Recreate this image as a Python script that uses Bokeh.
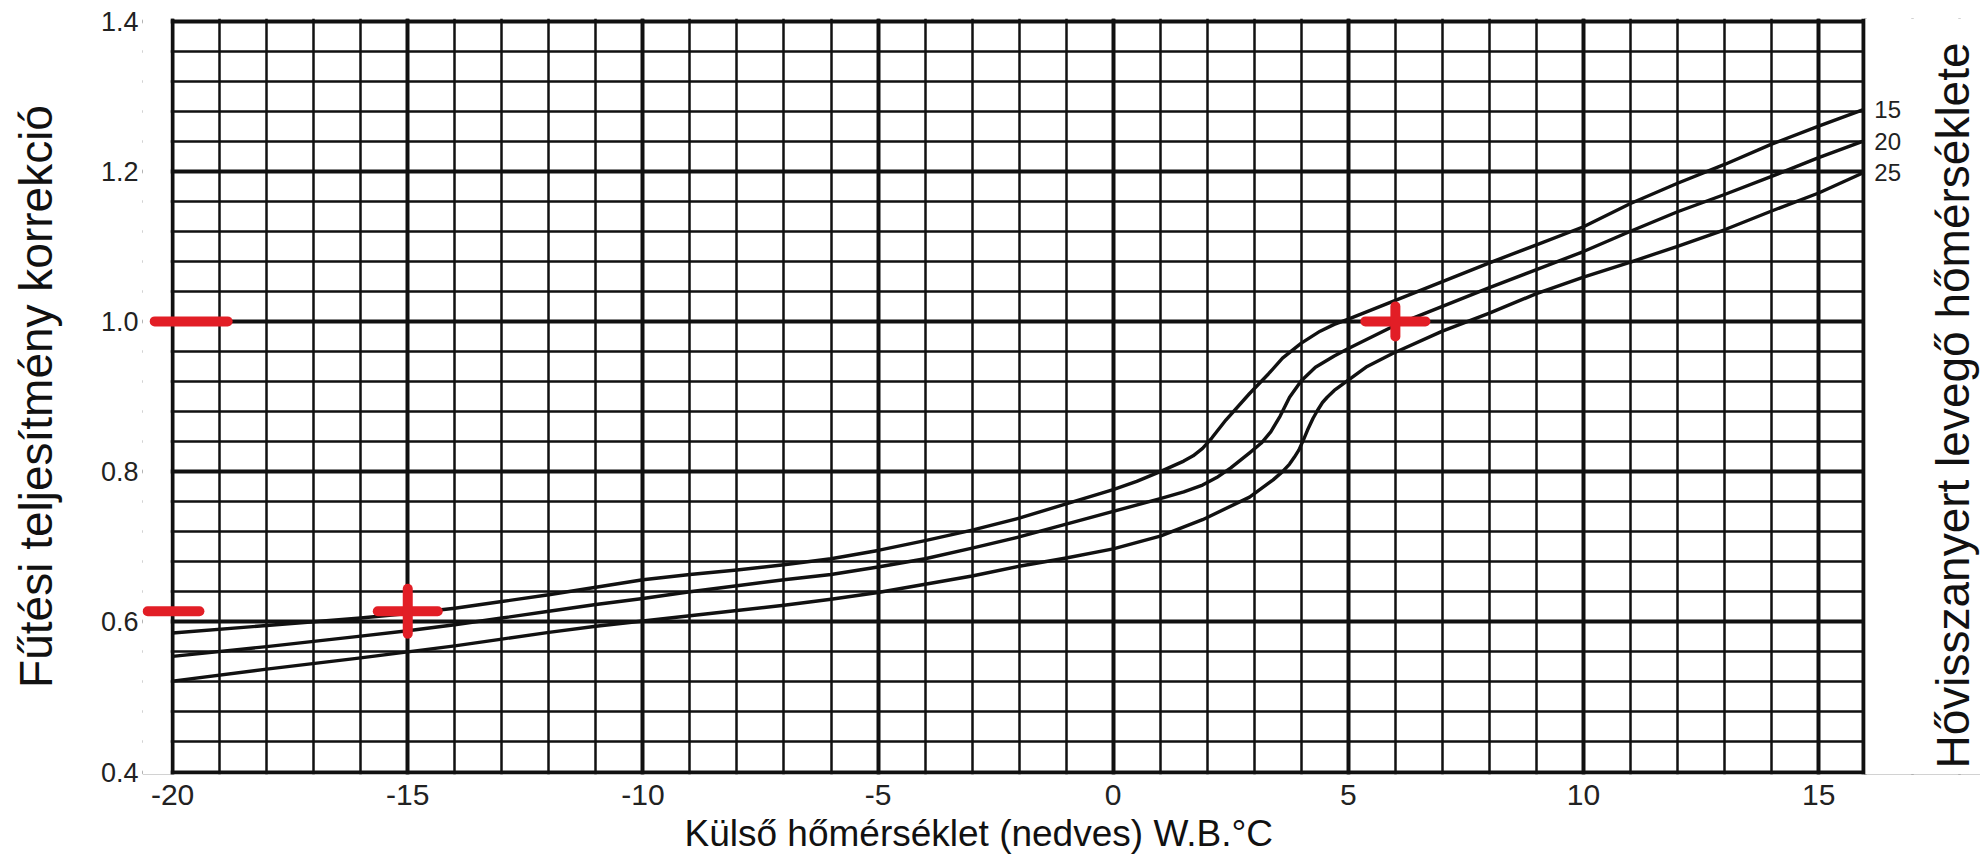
import numpy as np
from bokeh.plotting import figure
from bokeh.models import (Range1d, FixedTicker, SingleIntervalTicker, Grid,
                          PrintfTickFormatter, Title)
from bokeh.embed import file_html
from bokeh.resources import INLINE
from bokeh.core.properties import value

# ---------------- data ----------------
x_ticks = [-20, -15, -10, -5, 0, 5, 10, 15]
y_ticks = [0.4, 0.6, 0.8, 1.0, 1.2, 1.4]
x_min, x_max = -20, 15.95          # chart box
y_min, y_max = 0.4, 1.4

curve_names = ["15", "20", "25"]

x15 = [-20, -18, -16, -15, -14, -13, -12, -11, -10, -9, -8, -7, -6, -5, -4, -3, -2, -1,
       0, 0.5, 1, 1.5, 1.7, 1.9, 2.1, 2.4, 2.9, 3.3, 3.6, 4.0, 4.4, 4.7, 5, 6, 7, 8, 9, 10,
       11, 12, 13, 14, 15, 15.95]
y15 = [0.585, 0.595, 0.605, 0.611, 0.618, 0.627, 0.636, 0.646, 0.656, 0.663, 0.669, 0.676,
       0.684, 0.695, 0.708, 0.722, 0.738, 0.757, 0.776, 0.787, 0.800, 0.814, 0.821, 0.831,
       0.845, 0.869, 0.904, 0.930, 0.951, 0.971, 0.987, 0.996, 1.003, 1.028, 1.053, 1.078,
       1.102, 1.126, 1.157, 1.184, 1.209, 1.236, 1.260, 1.282]

x20 = [-20, -18, -16, -15, -14, -13, -12, -11, -10, -9, -8, -7, -6, -5, -4, -3, -2, -1,
       0, 1, 1.5, 1.9, 2.2, 2.5, 2.9, 3.15, 3.35, 3.55, 3.75, 4.0, 4.3, 4.7, 5, 6, 7, 8, 9,
       10, 11, 12, 13, 14, 15, 15.95]
y20 = [0.554, 0.567, 0.581, 0.588, 0.596, 0.605, 0.614, 0.623, 0.631, 0.640, 0.648, 0.656,
       0.663, 0.673, 0.684, 0.698, 0.713, 0.730, 0.747, 0.764, 0.773, 0.782, 0.792, 0.805,
       0.825, 0.838, 0.853, 0.874, 0.899, 0.921, 0.939, 0.954, 0.964, 0.995, 1.020, 1.045,
       1.069, 1.093, 1.120, 1.146, 1.169, 1.193, 1.218, 1.240]

x25 = [-20, -18, -16, -15, -14, -13, -12, -11, -10, -9, -8, -7, -6, -5, -4, -3, -2, -1,
       0, 1, 1.9, 2.9, 3.4, 3.6, 3.75, 3.85, 3.95, 4.05, 4.13, 4.25, 4.34, 4.45, 4.55, 4.7,
       4.94, 5.4, 5.93, 7, 8, 9, 10, 11, 12, 13, 14, 15, 15.95]
y25 = [0.521, 0.537, 0.552, 0.560, 0.568, 0.577, 0.586, 0.594, 0.601, 0.608, 0.615, 0.622,
       0.630, 0.639, 0.650, 0.661, 0.674, 0.685, 0.697, 0.714, 0.736, 0.766, 0.789, 0.800,
       0.810, 0.819, 0.829, 0.843, 0.855, 0.871, 0.881, 0.892, 0.899, 0.908, 0.919, 0.940,
       0.957, 0.987, 1.011, 1.037, 1.059, 1.079, 1.100, 1.122, 1.147, 1.171, 1.198]

# red reading marks
mark_cross_x = [-15, 6]
mark_cross_y = [0.614, 1.0]
mark_dash_y = [1.0, 0.614]
mark_dash_x0 = [-20.38, -20.53]
mark_dash_x1 = [-18.83, -19.43]

x_title = "Külső hőmérséklet (nedves) W.B.°C"
y_title = "Fűtési teljesítmény korrekció"
r_title = "Hővisszanyert levegő hőmérséklete"

# ---------------- styling / layout ----------------
INK = "#111111"
LABEL_INK = "#222222"
RED = "#e21e26"
FONT = "Liberation Sans"
PX_X = 47.03            # pixels per x unit
PX_Y = 751.0            # pixels per y unit
LEFT = 142              # canvas px of frame left
TOP = 18                # canvas px of frame top
FRAME_W, FRAME_H = 1838, 756
x_start = -20.64
x_end = x_start + FRAME_W / PX_X
pad_y = 2.5 / PX_Y
y_start, y_end = y_min - pad_y, y_max + pad_y


def px_to_x(px):
    return x_start + (px - LEFT) / PX_X


def px_to_y(py):
    return y_end - (py - TOP) / PX_Y


p = figure(x_range=Range1d(x_start, x_end), y_range=Range1d(y_start, y_end),
           frame_width=FRAME_W, frame_height=FRAME_H,
           min_border_left=LEFT, min_border_right=0, min_border_top=TOP,
           min_border_bottom=80, output_backend="svg", toolbar_location=None,
           background_fill_color="white", border_fill_color="white")
p.outline_line_color = None

# axes
p.xaxis.ticker = FixedTicker(ticks=x_ticks)
p.yaxis.ticker = FixedTicker(ticks=y_ticks)
p.xaxis.formatter = PrintfTickFormatter(format="%d")
p.yaxis.formatter = PrintfTickFormatter(format="%.1f")
for ax in (p.xaxis, p.yaxis):
    ax.axis_line_color = None
    ax.major_tick_line_color = None
    ax.minor_tick_line_color = None
    ax.major_tick_out = 0
    ax.major_tick_in = 0
    ax.major_label_text_font = FONT
    ax.major_label_text_color = LABEL_INK
p.xaxis.major_label_text_font_size = "30px"
p.yaxis.major_label_text_font_size = "27px"
p.xaxis.major_label_standoff = 10
p.yaxis.major_label_standoff = 4
p.yaxis.axis_label = y_title
p.yaxis.axis_label_text_font = FONT
p.yaxis.axis_label_text_font_size = "46px"
p.yaxis.axis_label_text_font_style = "normal"
p.yaxis.axis_label_text_color = INK
p.yaxis.axis_label_standoff = 36

# x title, placed below the axis
p.add_layout(Title(text=x_title, align="left", offset=542, standoff=8,
                   vertical_align="middle", text_font=FONT, text_font_size="37px",
                   text_font_style="normal", text_color=INK), "below")

# grids (box border = outer grid lines)
p.xgrid.ticker = FixedTicker(ticks=x_ticks + [x_max])
p.ygrid.ticker = FixedTicker(ticks=y_ticks)
for g in (p.xgrid, p.ygrid):
    g.grid_line_color = INK
    g.grid_line_width = 4
p.add_layout(Grid(dimension=0, ticker=SingleIntervalTicker(interval=1),
                  grid_line_color=INK, grid_line_width=2.5))
p.add_layout(Grid(dimension=1, ticker=SingleIntervalTicker(interval=0.04),
                  grid_line_color=INK, grid_line_width=2.5))

# blank margins left and right of the chart box
half_border = 2.0 / PX_X
p.quad(left=[x_start, x_max + half_border], right=[x_min - half_border, x_end],
       bottom=[y_start, y_start], top=[y_end, y_end],
       fill_color="white", line_color=None)

# curves
for xs, ys in ((x15, y15), (x20, y20), (x25, y25)):
    p.line(xs, ys, line_color=INK, line_width=3.4, line_join="round")

# curve names at the right ends
p.text(x=[x15[-1], x20[-1], x25[-1]], y=[y15[-1], y20[-1], y25[-1]], text=curve_names,
       x_offset=11, text_align="left", text_baseline="middle",
       text_font=value(FONT), text_font_size=value("24px"), text_color=LABEL_INK)

# right-hand title
p.text(x=[px_to_x(1952)], y=[px_to_y(405)], text=[r_title],
       angle=np.pi / 2, text_align="center", text_baseline="middle",
       text_font=value(FONT), text_font_size=value("46px"), text_color=INK)

# red marks
p.segment(x0=mark_dash_x0, y0=mark_dash_y, x1=mark_dash_x1, y1=mark_dash_y,
          line_color=RED, line_width=10, line_cap="round")
p.scatter(mark_cross_x, mark_cross_y, marker="dash", size=60, line_width=10,
          line_color=RED, line_cap="round")
p.scatter(mark_cross_x, mark_cross_y, marker="dash", size=[45, 30], angle=np.pi / 2,
          line_width=10, line_color=RED, line_cap="round")

open("out.html", "w").write(file_html(p, INLINE))
